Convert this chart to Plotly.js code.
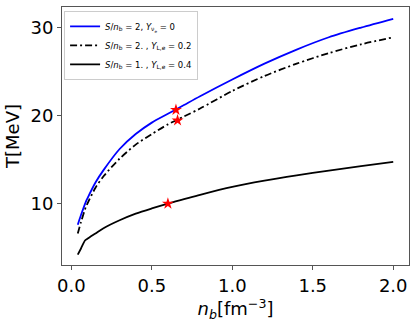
<!DOCTYPE html>
<html>
<head>
<meta charset="utf-8">
<script src="https://cdn.plot.ly/plotly-3.0.1.min.js"></script>
<style>
  html, body { margin: 0; padding: 0; background: #fff; }
  #chart { width: 416px; height: 325px; }
</style>
</head>
<body>
<div id="chart"></div>
<script>
// densidad bariónica (fm^-3)
const nb = [0.04, 0.06, 0.09, 0.1, 0.15, 0.2, 0.3, 0.4, 0.5, 0.6, 0.7, 0.8, 1.0, 1.2, 1.4, 1.6, 1.8, 2.0];

// T [MeV] para cada caso
const tS2Y0 = [7.6, 8.7, 10.2, 10.6, 12.4, 13.8, 16.2, 17.9, 19.2, 20.2, 21.2, 22.2, 24.1, 25.9, 27.5, 28.9, 30.0, 31.0];
const tS2YL02 = [6.6, 7.9, 9.6, 10.0, 11.8, 13.1, 15.1, 16.7, 17.9, 19.0, 19.9, 20.8, 22.8, 24.5, 25.9, 27.1, 28.1, 28.9];
const nbBlack = [0.04, 0.06, 0.085, 0.1, 0.15, 0.2, 0.3, 0.4, 0.5, 0.6, 0.7, 0.8, 1.0, 1.2, 1.4, 1.6, 1.8, 2.0];
const tS1YL04 = [4.2, 4.9, 5.8, 6.0, 6.6, 7.2, 8.1, 8.85, 9.45, 10.0, 10.5, 11.0, 11.9, 12.6, 13.2, 13.75, 14.25, 14.75];

// puntos marcados (estrellas)
const starNb = [0.65, 0.66, 0.60];
const starT = [20.65, 19.45, 10.0];

const traces = [
    {
        x: nb, y: tS2Y0, mode: 'lines', type: 'scatter',
        name: '<i>S</i>/<i>n</i><sub>b</sub> = 2, <i>Y</i><sub>ν<sub>e</sub></sub> = 0',
        line: { color: '#0000ff', width: 1.8, shape: 'spline', smoothing: 0.8 },
    },
    {
        x: nb, y: tS2YL02, mode: 'lines', type: 'scatter',
        name: '<i>S</i>/<i>n</i><sub>b</sub> = 2. , <i>Y</i><sub>L,e</sub> = 0.2',
        line: { color: 'black', width: 1.8, dash: '7px,3px,2px,3px', shape: 'spline', smoothing: 0.8 },
    },
    {
        x: nbBlack, y: tS1YL04, mode: 'lines', type: 'scatter',
        name: '<i>S</i>/<i>n</i><sub>b</sub> = 1. , <i>Y</i><sub>L,e</sub> = 0.4',
        line: { color: 'black', width: 1.8, shape: 'spline', smoothing: 0.8 },
    },
    {
        x: starNb, y: starT, mode: 'markers', type: 'scatter',
        showlegend: false,
        marker: { symbol: 'star', color: 'red', size: 9, line: { width: 0 } },
    },
];

const axisFont = { family: 'DejaVu Sans', size: 18, color: 'black' };

const layout = {
    width: 416,
    height: 325,
    margin: { l: 62, r: 7, t: 7, b: 60 },
    paper_bgcolor: 'white',
    plot_bgcolor: 'white',
    font: { family: 'DejaVu Sans', color: 'black' },
    xaxis: {
        range: [-0.058, 2.098],
        tickvals: [0, 0.5, 1.0, 1.5, 2.0],
        ticktext: ['0.0', '0.5', '1.0', '1.5', '2.0'],
        ticks: 'outside', ticklen: 4, tickcolor: '#555',
        showgrid: false, zeroline: false,
        showline: true, linecolor: '#555', linewidth: 1, mirror: true,
        tickfont: axisFont,
        title: { text: '<i>n</i><sub><i>b</i></sub>[fm<sup>−3</sup>]', font: axisFont, standoff: 4 },
    },
    yaxis: {
        range: [3.02, 32.34],
        tickvals: [10, 20, 30],
        ticks: 'outside', ticklen: 4, tickcolor: '#555',
        showgrid: false, zeroline: false,
        showline: true, linecolor: '#555', linewidth: 1, mirror: true,
        tickfont: axisFont,
        title: { text: 'T[MeV]', font: axisFont, standoff: 6 },
    },
    legend: {
        x: 0.006, y: 0.985, xanchor: 'left', yanchor: 'top',
        bgcolor: 'white', bordercolor: '#ccc', borderwidth: 1,
        font: { family: 'DejaVu Sans', size: 8.5, color: 'black' },
        tracegroupgap: 0, itemwidth: 30,
    },
    showlegend: true,
};

Plotly.newPlot('chart', traces, layout, { displayModeBar: false, staticPlot: true });
</script>
</body>
</html>
